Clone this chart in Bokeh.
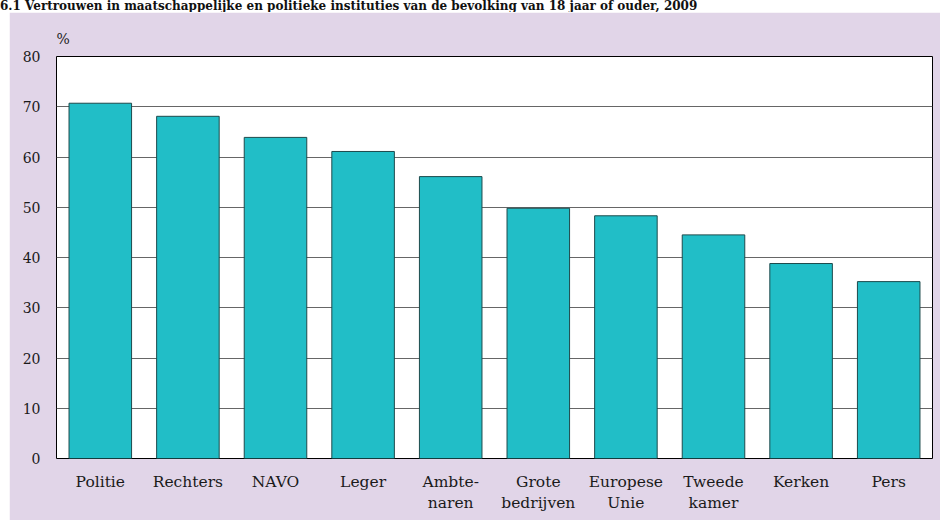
from bokeh.plotting import figure
from bokeh.models import Div, FixedTicker, Range1d, ColumnDataSource
from bokeh.layouts import column
from bokeh.embed import file_html
from bokeh.resources import INLINE

chart_title = "6.1 Vertrouwen in maatschappelijke en politieke instituties van de bevolking van 18 jaar of ouder, 2009"
unit_label = "%"
categories = ["Politie", "Rechters", "NAVO", "Leger", "Ambte-\nnaren", "Grote\nbedrijven",
              "Europese\nUnie", "Tweede\nkamer", "Kerken", "Pers"]
values = [70.7, 68.1, 63.9, 61.1, 56.1, 49.8, 48.3, 44.5, 38.8, 35.2]
y_ticks = [0, 10, 20, 30, 40, 50, 60, 70, 80]

FONT = "DejaVu Serif"
PURPLE = "#E1D5E8"

head = Div(text=f"<b>{chart_title}</b>", width=943, height=12, margin=(0, 0, 0, 0),
           styles={"font-family": FONT, "font-size": "12px", "line-height": "12px",
                   "white-space": "nowrap", "overflow": "hidden", "color": "#111"})

p = figure(width=931, height=508, x_range=categories, y_range=Range1d(0, 80),
           output_backend="svg", toolbar_location=None,
           min_border_left=47, min_border_right=8, min_border_top=44, min_border_bottom=62,
           background_fill_color="white", border_fill_color=PURPLE,
           outline_line_color="black", outline_line_width=1)
p.margin = (0, 3, 0, 9)

p.title.text = unit_label
p.title.align = "left"
p.title.text_font = FONT
p.title.text_font_size = "14px"
p.title.text_font_style = "normal"
p.title.text_color = "#222"
p.title.standoff = 20

src = ColumnDataSource(dict(cat=categories, val=values))
p.vbar(x="cat", top="val", width=0.714, source=src, fill_color="#21BEC7",
       line_color="#1d4a4c", line_width=1)

p.yaxis.ticker = FixedTicker(ticks=y_ticks)
p.ygrid.ticker = FixedTicker(ticks=y_ticks)
p.ygrid.grid_line_color = "#666666"
p.ygrid.grid_line_width = 1
p.xgrid.grid_line_color = None

for ax in (p.xaxis, p.yaxis):
    ax.axis_line_color = None
    ax.major_tick_line_color = None
    ax.minor_tick_line_color = None
    ax.major_tick_in = 0
    ax.major_tick_out = 0
    ax.minor_tick_in = 0
    ax.minor_tick_out = 0
    ax.major_label_text_font = FONT
    ax.major_label_text_color = "#1a1a1a"

p.yaxis.major_label_text_font_size = "14px"
p.yaxis.major_label_standoff = 16
p.xaxis.major_label_text_font_size = "15.5px"
p.xaxis.major_label_standoff = 14

layout = column(head, p, spacing=0)
open("out.html", "w").write(file_html(layout, INLINE))
